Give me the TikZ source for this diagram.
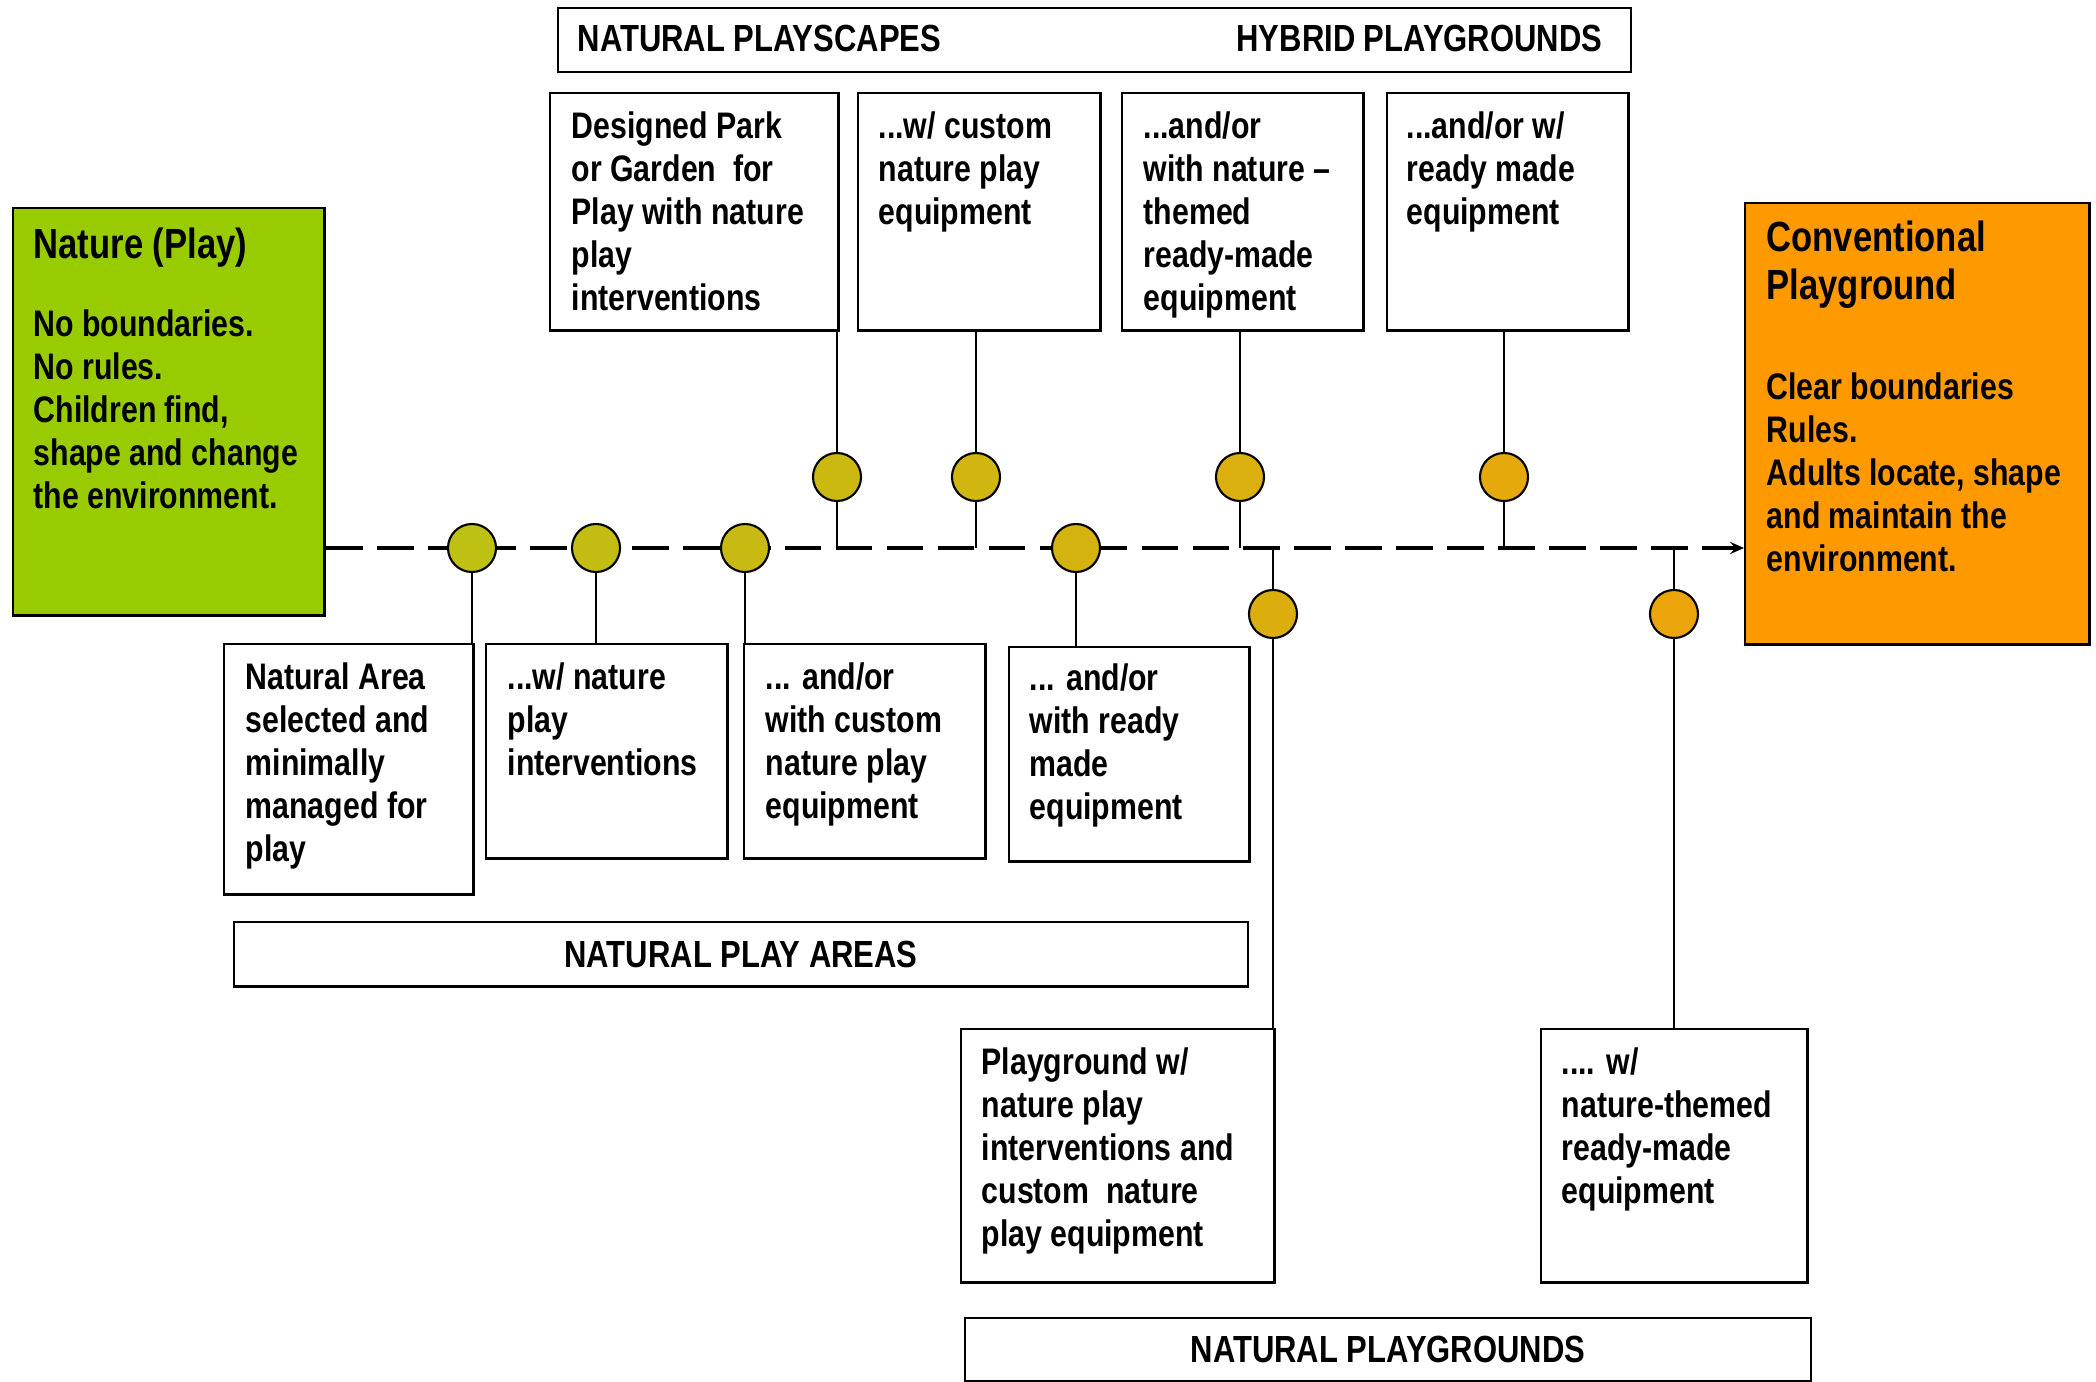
\documentclass[tikz,border=0pt]{standalone}
\usepackage{fontspec}
\setmainfont{Liberation Sans}[FakeStretch=0.82]
\usetikzlibrary{arrows.meta}
\definecolor{naturegreen}{RGB}{153,204,0}
\definecolor{playorange}{RGB}{255,153,0}
\definecolor{dotA}{RGB}{190,192,20}
\definecolor{dotB}{RGB}{235,165,10}

\tikzset{
    box/.style={draw, line width=0.7pt, anchor=north west, inner sep=0pt},
    txt/.style={anchor=north west, inner sep=0pt, align=left,
        font=\bfseries\fontsize{10.5}{12.2}\selectfont},
    head/.style={txt, font=\bfseries\fontsize{12}{13.6}\selectfont},
    bannertxt/.style={txt, font=\bfseries\fontsize{10.75}{12.2}\selectfont},
    dot/.style={circle, draw, line width=0.6pt, minimum size=0.48cm, inner sep=0pt},
    link/.style={line width=0.6pt},
    axisline/.style={line width=1.3pt, dash pattern=on 10.5pt off 4pt,
        -{Stealth[length=4pt,width=3.5pt,inset=1.5pt]}},
}

\begin{document}
\begin{tikzpicture}[x=0.01cm, y=-0.01cm]
    \useasboundingbox (0,0) rectangle (2096,1382);
    \def\ya{548};  % the axis
    \def\yu{477};  % circles above
    \def\yd{614};  % circles below

    % end boxes
    \node[box, fill=naturegreen, minimum width=3.11cm, minimum height=4.07cm] at (12,207) (nat) {};
    \node[head] at (33,227) (natHead) {Nature (Play)};
    \node[txt] at (33,309) (natBody) {No boundaries.\\No rules.\\Children find,\\shape and change\\the environment.};
    \node[box, fill=playorange, minimum width=3.44cm, minimum height=4.41cm] at (1744,202) (conv) {};
    \node[head] at (1766,220) (convHead) {Conventional\\Playground};
    \node[txt] at (1766,372) (convBody) {Clear boundaries\\Rules.\\Adults locate, shape\\and maintain the\\environment.};

    % banners
    \node[box, minimum width=10.72cm, minimum height=0.64cm] at (557,7) (top) {};
    \node[bannertxt, anchor=west] at (577,38) (scapes) {NATURAL PLAYSCAPES};
    \node[bannertxt, anchor=east] at (1603,38) (hybrid) {HYBRID PLAYGROUNDS};
    \node[box, minimum width=10.13cm, minimum height=0.64cm] at (233,921) (areas) {};
    \node[bannertxt, anchor=center] at (areas.center) (areasTxt) {NATURAL PLAY AREAS};
    \node[box, minimum width=8.45cm, minimum height=0.63cm] at (964,1317) (grounds) {};
    \node[bannertxt, anchor=center] at (grounds.center) (groundsTxt) {NATURAL PLAYGROUNDS};

    % top row
    \node[box, minimum width=2.88cm, minimum height=2.37cm] at (549,92) (t1) {};
    \node[txt] at (571,111) (t1txt) {Designed Park\\or Garden~ for\\Play with nature\\play\\interventions};
    \node[box, minimum width=2.42cm, minimum height=2.37cm] at (857,92) (t2) {};
    \node[txt] at (878,111) (t2txt) {...w/ custom\\nature play\\equipment};
    \node[box, minimum width=2.41cm, minimum height=2.37cm] at (1121,92) (t3) {};
    \node[txt] at (1143,111) (t3txt) {...and/or\\with nature --\\themed\\ready-made\\equipment};
    \node[box, minimum width=2.41cm, minimum height=2.37cm] at (1386,92) (t4) {};
    \node[txt] at (1406,111) (t4txt) {...and/or w/\\ready made\\equipment};

    % bottom row
    \node[box, minimum width=2.49cm, minimum height=2.50cm] at (223,643) (b1) {};
    \node[txt] at (245,662) (b1txt) {Natural Area\\selected and\\minimally\\managed for\\play};
    \node[box, minimum width=2.41cm, minimum height=2.14cm] at (485,643) (b2) {};
    \node[txt] at (507,662) (b2txt) {...w/ nature\\play\\interventions};
    \node[box, minimum width=2.41cm, minimum height=2.14cm] at (743,643) (b3) {};
    \node[txt] at (765,662) (b3txt) {... and/or\\with custom\\nature play\\equipment};
    \node[box, minimum width=2.40cm, minimum height=2.14cm] at (1008,646) (b4) {};
    \node[txt] at (1029,663) (b4txt) {... and/or\\with ready\\made\\equipment};
    \node[box, minimum width=3.13cm, minimum height=2.53cm] at (960,1028) (b5) {};
    \node[txt] at (981,1047) (b5txt) {Playground w/\\nature play\\interventions and\\custom~ nature\\play equipment};
    \node[box, minimum width=2.66cm, minimum height=2.53cm] at (1540,1028) (b6) {};
    \node[txt] at (1561,1047) (b6txt) {.... w/\\nature-themed\\ready-made\\equipment};

    % axis
    \coordinate (axis) at (0,\ya);
    \draw[axisline] (nat.east |- axis) -- (conv.west |- axis);

    % circles
    \node[dot, fill=dotA] at (472,\ya) (c1) {};
    \node[dot, fill=dotB!10!dotA] at (596,\ya) (c2) {};
    \node[dot, fill=dotB!23!dotA] at (745,\ya) (c3) {};
    \node[dot, fill=dotB!50!dotA] at (1076,\ya) (c4) {};
    \node[dot, fill=dotB!30!dotA] at (837,\yu) (u1) {};
    \node[dot, fill=dotB!42!dotA] at (976,\yu) (u2) {};
    \node[dot, fill=dotB!64!dotA] at (1240,\yu) (u3) {};
    \node[dot, fill=dotB!86!dotA] at (1504,\yu) (u4) {};
    \node[dot, fill=dotB!67!dotA] at (1273,\yd) (d1) {};
    \node[dot, fill=dotB] at (1674,\yd) (d2) {};

    % connectors
    \draw[link] (c1) -- (c1 |- b1.north);
    \draw[link] (c2) -- (c2 |- b2.north);
    \draw[link] (c3) -- (c3 |- b3.north);
    \draw[link] (c4) -- (c4 |- b4.north);
    \draw[link] (u1 |- t1.south) -- (u1);
    \draw[link] (u1) -- (u1 |- axis);
    \draw[link] (u2 |- t2.south) -- (u2);
    \draw[link] (u2) -- (u2 |- axis);
    \draw[link] (u3 |- t3.south) -- (u3);
    \draw[link] (u3) -- (u3 |- axis);
    \draw[link] (u4 |- t4.south) -- (u4);
    \draw[link] (u4) -- (u4 |- axis);
    \draw[link] (d1 |- axis) -- (d1);
    \draw[link] (d1) -- (d1 |- b5.north);
    \draw[link] (d2 |- axis) -- (d2);
    \draw[link] (d2) -- (d2 |- b6.north);
\end{tikzpicture}
\end{document}
